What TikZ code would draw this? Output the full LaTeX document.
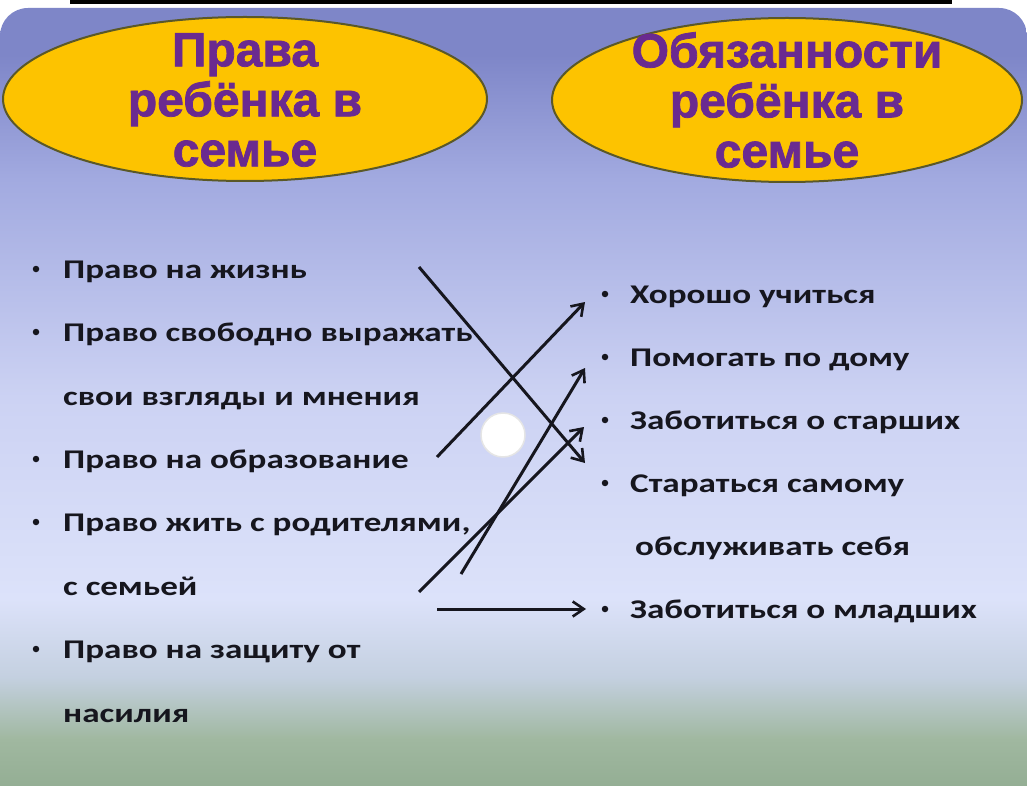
\documentclass[tikz,border=0pt]{standalone}
\usepackage{fontspec}
\setmainfont{Liberation Sans}
\newfontfamily\headfont{Liberation Sans}[FakeBold=1.6]
\newfontfamily\listfont{Carlito}[FakeStretch=1.3]
\usetikzlibrary{arrows.meta,shapes.geometric}

\definecolor{bgtop}{RGB}{126,134,200}
\definecolor{bgupper}{RGB}{162,170,224}
\definecolor{bgmid}{RGB}{204,210,243}
\definecolor{bglight}{RGB}{220,226,250}
\definecolor{bgmist}{RGB}{196,208,224}
\definecolor{bggreen}{RGB}{160,184,160}
\definecolor{bggreenlow}{RGB}{148,174,148}
\definecolor{ovalfill}{RGB}{253,195,0}
\definecolor{ovalline}{RGB}{90,88,40}
\definecolor{headtext}{RGB}{106,42,144}
\definecolor{itemtext}{RGB}{22,22,30}

\pgfdeclareverticalshading{slidebg}{100bp}{color(0bp)=(bggreenlow); color(25bp)=(bggreenlow);
  color(28bp)=(bggreen); color(32bp)=(bgmist); color(37bp)=(bglight); color(50bp)=(bgmid);
  color(64bp)=(bgupper); color(72bp)=(bgtop); color(100bp)=(bgtop)}

\tikzset{
  headoval/.style={ellipse, draw=ovalline, line width=2pt, fill=ovalfill,
    minimum width=484pt, minimum height=164pt, inner sep=0pt},
  headtext/.style={align=center, text=headtext, inner sep=0pt,
    font=\headfont\bfseries\fontsize{48}{50}\selectfont},
  item/.style={anchor=base west, inner sep=0pt, text=itemtext,
    font=\listfont\bfseries\fontsize{27}{27}\selectfont},
  dot/.style={circle, fill=itemtext, inner sep=0pt, minimum size=6.5pt},
  link/.style={draw=itemtext, line width=3pt,
    -{Straight Barb[length=11pt,width=15pt,line width=2.6pt]}}
}

\begin{document}
\begin{tikzpicture}[x=1pt,y=-1pt]
  \useasboundingbox (0,0) rectangle (1027,786);
  \fill[white] (0,0) rectangle (1027,786);
  \fill[black] (70,0) rectangle (952,4);
  \shade[shading=slidebg] (0,786) {[rounded corners=28pt] -- (0,8) -- (1027,8)} -- (1027,786) -- cycle;

  % headings
  \node[headoval] (lhead) at (245,99) {};
  \node[headoval, minimum width=470pt] (rhead) at (787,100) {};
  \node[headtext] (ltitle) at (245,100) {Права\\ребёнка в\\семье};
  \node[headtext] (rtitle) at (787,100) {Обязанности\\ребёнка в\\семье};

  % rights of the child
  \begin{scope}[every node/.style={item}]
    \node (r1) at (63,278) {Право на жизнь};
    \node (r2) at (63,341) {Право свободно выражать};
    \node (r3) at (63,405) {свои взгляды и мнения};
    \node (r4) at (63,468) {Право на образование};
    \node (r5) at (63,531) {Право жить с родителями,};
    \node (r6) at (63,595) {с семьей};
    \node (r7) at (63,658) {Право на защиту от};
    \node (r8) at (63,722) {насилия};
  \end{scope}

  % duties of the child
  \begin{scope}[every node/.style={item}]
    \node (d1) at (630,303) {Хорошо учиться};
    \node (d2) at (630,366) {Помогать по дому};
    \node (d3) at (630,429) {Заботиться о старших};
    \node (d4) at (630,492) {Стараться самому};
    \node (d5) at (635,555) {обслуживать себя};
    \node (d6) at (630,618) {Заботиться о младших};
  \end{scope}

  \begin{scope}[every node/.style={dot}]
    \node (br1) at (36,269) {};
    \node (br2) at (36,332) {};
    \node (br4) at (36,459) {};
    \node (br5) at (36,522) {};
    \node (br7) at (36,649) {};
    \node (bd1) at (605,294) {};
    \node (bd2) at (605,357) {};
    \node (bd3) at (605,420) {};
    \node (bd4) at (605,483) {};
    \node (bd6) at (605,609) {};
  \end{scope}

  % arrow ends
  \coordinate (s1) at (419,267);
  \coordinate (s2) at (437,457);
  \coordinate (s3) at (461,574);
  \coordinate (s4) at (419,592);
  \coordinate (s5) at (437,609);
  \coordinate (t1) at (585,302);
  \coordinate (t2) at (585,368);
  \coordinate (t3) at (584,427);
  \coordinate (t4) at (585,463);
  \coordinate (t6) at (586,609);

  \begin{scope}[every edge/.style={link}]
    \path (s1) edge (t4);
    \path (s2) edge (t1);
    \path (s3) edge (t2);
    \path (s4) edge (t3);
    \path (s5) edge (t6);
  \end{scope}

  \node[circle, fill=white, draw=black!10, line width=1.5pt, minimum size=44pt] (spot) at (503,435) {};
\end{tikzpicture}
\end{document}
